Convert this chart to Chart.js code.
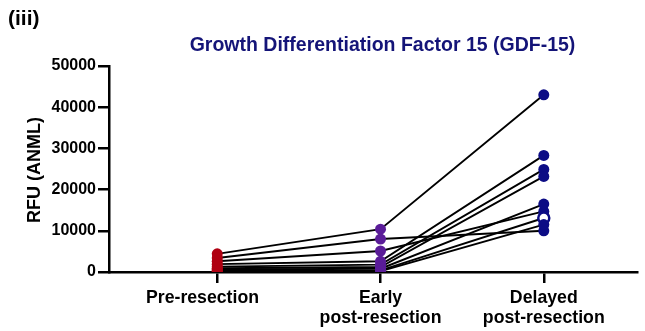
<!DOCTYPE html>
<html>
<head>
<meta charset="utf-8">
<script src="https://cdn.jsdelivr.net/npm/chart.js@4.4.1/dist/chart.umd.min.js"></script>
<style>
  html, body { margin: 0; padding: 0; background: #ffffff; }
  #wrap { width: 645px; height: 331px; position: relative; }
</style>
</head>
<body>
<div id="wrap"><canvas id="c"></canvas></div>
<script>
// Time points and per-patient GDF-15 readings (RFU, ANML normalised)
const timepoints = [['Pre-resection      '], ['Early', 'post-resection'], ['Delayed', 'post-resection']];
const preResection      = [4400, 3400, 2600, 1900, 1300, 900, 600, 300, 100];
const earlyPostResect   = [10400, 8000, 5100, 2600, 1800, 1200, 800, 400, 200];
const delayedPostResect = [43000, 10000, 14700, 28300, 24900, 23200, 16500, 13100, 11500];
const openMarkerPatient = 7;   // sample drawn as hollow circle at the delayed time point
const yTicks = [0, 10000, 20000, 30000, 40000, 50000];

const colPre = '#B00012';
const colEarly = '#5A1C98';
const colDelayed = '#0C0C85';
const FONT = '"Liberation Sans", Arial, sans-serif';

const datasets = [];

// one black connecting line per patient
preResection.forEach((v, i) => {
  datasets.push({
    type: 'line',
    data: [{x: 0, y: v}, {x: 1, y: earlyPostResect[i]}, {x: 2, y: delayedPostResect[i]}],
    borderColor: '#000000',
    borderWidth: 1.9,
    pointRadius: 0,
    fill: false,
    order: 2
  });
});

// coloured markers for each time point, drawn above the lines
const groups = [
  {vals: preResection, x: 0, color: colPre},
  {vals: earlyPostResect, x: 1, color: colEarly},
  {vals: delayedPostResect, x: 2, color: colDelayed}
];
groups.forEach(g => {
  datasets.push({
    type: 'scatter',
    data: g.vals.map(v => ({x: g.x, y: v})),
    backgroundColor: g.vals.map((v, i) => (g.x === 2 && i === openMarkerPatient) ? '#ffffff' : g.color),
    borderColor: g.color,
    borderWidth: g.vals.map((v, i) => (g.x === 2 && i === openMarkerPatient) ? 2.5 : 0),
    pointRadius: 5.5,
    order: 0
  });
});

// Panel tag, title and y-axis caption
const headerText = {
  id: 'headerText',
  afterDraw(chart) {
    const ctx = chart.ctx;
    const xs = chart.scales.x;
    const ys = chart.scales.y;
    ctx.save();
    ctx.fillStyle = '#000000';
    ctx.font = 'bold 21px ' + FONT;
    ctx.textAlign = 'left';
    ctx.textBaseline = 'middle';
    ctx.fillText('(iii)', 8, 19);

    ctx.fillStyle = '#141478';
    ctx.font = 'bold 19.5px ' + FONT;
    ctx.textAlign = 'center';
    ctx.fillText('Growth Differentiation Factor 15 (GDF-15)', xs.getPixelForValue(1) + 2, 46);

    ctx.fillStyle = '#000000';
    ctx.font = 'bold 18px ' + FONT;
    ctx.translate(35, ys.getPixelForValue(25000) + 1);
    ctx.rotate(-Math.PI / 2);
    ctx.fillText('RFU (ANML)', 0, 0);
    ctx.restore();
  }
};

new Chart(document.getElementById('c'), {
  data: { datasets },
  options: {
    responsive: true,
    maintainAspectRatio: false,
    animation: false,
    layout: { padding: { top: 66, right: 4, left: 0, bottom: 0 } },
    plugins: { legend: { display: false }, tooltip: { enabled: false } },
    scales: {
      x: {
        type: 'linear',
        min: -0.663,
        max: 2.571,
        afterBuildTicks(scale) { scale.ticks = timepoints.map((t, i) => ({value: i})); },
        afterFit(scale) { scale.height = 59; scale.paddingLeft = 0; scale.paddingRight = 0; },
        border: { display: true, color: '#000000', width: 2.5 },
        grid: { display: true, drawOnChartArea: false, drawTicks: true, tickLength: 11, color: '#000000', lineWidth: 2.5 },
        ticks: {
          autoSkip: false,
          maxRotation: 0,
          padding: 5,
          color: '#000000',
          font: { family: FONT, size: 17.7, weight: 'bold', lineHeight: 1.14 },
          callback: (v) => timepoints[Math.round(v)]
        }
      },
      y: {
        min: 0,
        max: 50000,
        afterBuildTicks(scale) { scale.ticks = yTicks.map(v => ({value: v})); },
        afterFit(scale) { scale.width = 109; },
        border: { display: true, color: '#000000', width: 2.5 },
        grid: { display: true, drawOnChartArea: false, drawTicks: true, tickLength: 11, color: '#000000', lineWidth: 2.5 },
        ticks: {
          padding: 2,
          color: '#000000',
          font: { family: FONT, size: 16, weight: 'bold' },
          callback: (v) => String(v)
        }
      }
    }
  },
  plugins: [headerText]
});
</script>
</body>
</html>
